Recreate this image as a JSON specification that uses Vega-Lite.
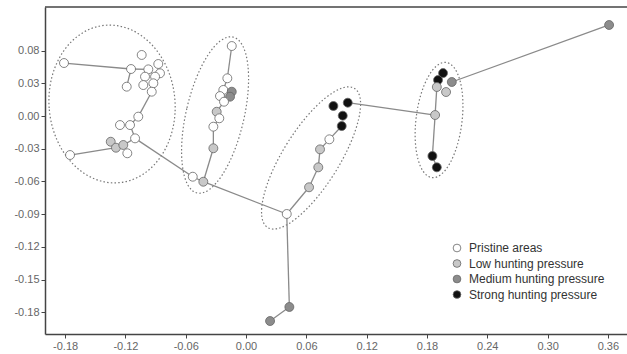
{
  "$schema": "https://vega.github.io/schema/vega-lite/v6.json",
  "width": 582,
  "height": 327,
  "autosize": {"type": "none"},
  "padding": {"left": 45, "top": 7, "right": 0, "bottom": 20},
  "background": "white",
  "config": {
    "view": {"stroke": null},
    "font": "Liberation Sans",
    "axis": {
      "grid": false,
      "domainColor": "#444",
      "domainWidth": 1.5,
      "tickColor": "#444",
      "tickSize": 4,
      "labelFont": "Liberation Sans",
      "labelFontSize": 11,
      "labelColor": "#666",
      "labelPadding": 2
    }
  },
  "datasets": {
    "points": [
      {"x": -0.1811, "y": 0.0486, "group": "Pristine areas"},
      {"x": -0.1144, "y": 0.0431, "group": "Pristine areas"},
      {"x": -0.1038, "y": 0.0560, "group": "Pristine areas"},
      {"x": -0.0873, "y": 0.0477, "group": "Pristine areas"},
      {"x": -0.0972, "y": 0.0428, "group": "Pristine areas"},
      {"x": -0.0856, "y": 0.0392, "group": "Pristine areas"},
      {"x": -0.1005, "y": 0.0361, "group": "Pristine areas"},
      {"x": -0.0905, "y": 0.0361, "group": "Pristine areas"},
      {"x": -0.1187, "y": 0.0269, "group": "Pristine areas"},
      {"x": -0.1022, "y": 0.0284, "group": "Pristine areas"},
      {"x": -0.0922, "y": 0.0300, "group": "Pristine areas"},
      {"x": -0.0938, "y": 0.0223, "group": "Pristine areas"},
      {"x": -0.1072, "y": -0.0006, "group": "Pristine areas"},
      {"x": -0.1254, "y": -0.0083, "group": "Pristine areas"},
      {"x": -0.1154, "y": -0.0083, "group": "Pristine areas"},
      {"x": -0.1104, "y": -0.0205, "group": "Pristine areas"},
      {"x": -0.1346, "y": -0.0236, "group": "Low hunting pressure"},
      {"x": -0.1294, "y": -0.0291, "group": "Low hunting pressure"},
      {"x": -0.1221, "y": -0.0266, "group": "Low hunting pressure"},
      {"x": -0.1181, "y": -0.0342, "group": "Pristine areas"},
      {"x": -0.1751, "y": -0.0358, "group": "Pristine areas"},
      {"x": -0.0142, "y": 0.0642, "group": "Pristine areas"},
      {"x": -0.0186, "y": 0.0346, "group": "Pristine areas"},
      {"x": -0.0226, "y": 0.0239, "group": "Pristine areas"},
      {"x": -0.0142, "y": 0.0223, "group": "Medium hunting pressure"},
      {"x": -0.0159, "y": 0.0177, "group": "Medium hunting pressure"},
      {"x": -0.0259, "y": 0.0183, "group": "Pristine areas"},
      {"x": -0.0219, "y": 0.0131, "group": "Pristine areas"},
      {"x": -0.0292, "y": 0.0039, "group": "Low hunting pressure"},
      {"x": -0.0266, "y": -0.0021, "group": "Pristine areas"},
      {"x": -0.0325, "y": -0.0098, "group": "Pristine areas"},
      {"x": -0.0325, "y": -0.0296, "group": "Low hunting pressure"},
      {"x": -0.0530, "y": -0.0557, "group": "Pristine areas"},
      {"x": -0.0425, "y": -0.0603, "group": "Low hunting pressure"},
      {"x": 0.0869, "y": 0.0092, "group": "Strong hunting pressure"},
      {"x": 0.1012, "y": 0.0122, "group": "Strong hunting pressure"},
      {"x": 0.0962, "y": 0.0003, "group": "Strong hunting pressure"},
      {"x": 0.0952, "y": -0.0092, "group": "Strong hunting pressure"},
      {"x": 0.0829, "y": -0.0214, "group": "Pristine areas"},
      {"x": 0.0736, "y": -0.0306, "group": "Low hunting pressure"},
      {"x": 0.0719, "y": -0.0471, "group": "Low hunting pressure"},
      {"x": 0.0627, "y": -0.0654, "group": "Low hunting pressure"},
      {"x": 0.0405, "y": -0.0899, "group": "Pristine areas"},
      {"x": 0.0431, "y": -0.1752, "group": "Medium hunting pressure"},
      {"x": 0.0239, "y": -0.1881, "group": "Medium hunting pressure"},
      {"x": 0.1960, "y": 0.0394, "group": "Strong hunting pressure"},
      {"x": 0.1910, "y": 0.0330, "group": "Strong hunting pressure"},
      {"x": 0.1898, "y": 0.0266, "group": "Low hunting pressure"},
      {"x": 0.2047, "y": 0.0312, "group": "Medium hunting pressure"},
      {"x": 0.1990, "y": 0.0220, "group": "Low hunting pressure"},
      {"x": 0.1881, "y": 0.0009, "group": "Low hunting pressure"},
      {"x": 0.1854, "y": -0.0367, "group": "Strong hunting pressure"},
      {"x": 0.1898, "y": -0.0471, "group": "Strong hunting pressure"},
      {"x": 0.3612, "y": 0.0835, "group": "Medium hunting pressure"}
    ],
    "edges": [
      {"x": -0.1811, "y": 0.0486, "x2": -0.1144, "y2": 0.0431},
      {"x": -0.1144, "y": 0.0431, "x2": -0.0972, "y2": 0.0428},
      {"x": -0.1144, "y": 0.0431, "x2": -0.1187, "y2": 0.0269},
      {"x": -0.0972, "y": 0.0428, "x2": -0.0905, "y2": 0.0361},
      {"x": -0.0905, "y": 0.0361, "x2": -0.0938, "y2": 0.0223},
      {"x": -0.0938, "y": 0.0223, "x2": -0.1072, "y2": -0.0006},
      {"x": -0.1072, "y": -0.0006, "x2": -0.1154, "y2": -0.0083},
      {"x": -0.1154, "y": -0.0083, "x2": -0.1104, "y2": -0.0205},
      {"x": -0.1104, "y": -0.0205, "x2": -0.1221, "y2": -0.0266},
      {"x": -0.1221, "y": -0.0266, "x2": -0.1294, "y2": -0.0291},
      {"x": -0.1294, "y": -0.0291, "x2": -0.1751, "y2": -0.0358},
      {"x": -0.1104, "y": -0.0205, "x2": -0.0530, "y2": -0.0557},
      {"x": -0.0142, "y": 0.0642, "x2": -0.0186, "y2": 0.0346},
      {"x": -0.0186, "y": 0.0346, "x2": -0.0226, "y2": 0.0239},
      {"x": -0.0226, "y": 0.0239, "x2": -0.0219, "y2": 0.0131},
      {"x": -0.0219, "y": 0.0131, "x2": -0.0292, "y2": 0.0039},
      {"x": -0.0292, "y": 0.0039, "x2": -0.0266, "y2": -0.0021},
      {"x": -0.0266, "y": -0.0021, "x2": -0.0325, "y2": -0.0098},
      {"x": -0.0325, "y": -0.0098, "x2": -0.0325, "y2": -0.0296},
      {"x": -0.0325, "y": -0.0296, "x2": -0.0425, "y2": -0.0603},
      {"x": -0.0530, "y": -0.0557, "x2": -0.0425, "y2": -0.0603},
      {"x": -0.0425, "y": -0.0603, "x2": 0.0405, "y2": -0.0899},
      {"x": 0.0405, "y": -0.0899, "x2": 0.0627, "y2": -0.0654},
      {"x": 0.0627, "y": -0.0654, "x2": 0.0719, "y2": -0.0471},
      {"x": 0.0719, "y": -0.0471, "x2": 0.0736, "y2": -0.0306},
      {"x": 0.0736, "y": -0.0306, "x2": 0.0829, "y2": -0.0214},
      {"x": 0.0829, "y": -0.0214, "x2": 0.0952, "y2": -0.0092},
      {"x": 0.0405, "y": -0.0899, "x2": 0.0431, "y2": -0.1752},
      {"x": 0.0431, "y": -0.1752, "x2": 0.0239, "y2": -0.1881},
      {"x": 0.1012, "y": 0.0122, "x2": 0.1881, "y2": 0.0009},
      {"x": 0.1881, "y": 0.0009, "x2": 0.1898, "y2": 0.0266},
      {"x": 0.1881, "y": 0.0009, "x2": 0.1854, "y2": -0.0367},
      {"x": 0.1854, "y": -0.0367, "x2": 0.1898, "y2": -0.0471},
      {"x": 0.2047, "y": 0.0312, "x2": 0.3612, "y2": 0.0835}
    ],
    "ellipses": [
      {"cluster": "A", "x": -0.1333, "y": 0.0110},
      {"cluster": "B", "x": -0.0308, "y": 0.0009},
      {"cluster": "C", "x": 0.0647, "y": -0.0385},
      {"cluster": "D", "x": 0.1920, "y": -0.0037}
    ]
  },
  "layer": [
    {
      "data": {"values": [{}]},
      "mark": {"type": "rule", "color": "#444", "strokeWidth": 1.5},
      "encoding": {"y": {"datum": 0.1, "title": null, "scale": {"domain": [-0.2, 0.1], "nice": false, "zero": false}}}
    },
    {
      "data": {"name": "ellipses"},
      "transform": [{"filter": "datum.cluster == 'A'"}],
      "mark": {"type": "point", "filled": false, "size": 4, "shape": "M -63 0 A 63 79 0 1 0 63 0 A 63 79 0 1 0 -63 0 Z", "angle": -5, "stroke": "#777", "strokeWidth": 1.2, "strokeDash": [1.5, 2.2], "opacity": 1},
      "encoding": {"x": {"field": "x", "type": "quantitative", "title": null}, "y": {"field": "y", "type": "quantitative", "title": null}}
    },
    {
      "data": {"name": "ellipses"},
      "transform": [{"filter": "datum.cluster == 'B'"}],
      "mark": {"type": "point", "filled": false, "size": 4, "shape": "M -29 0 A 29 80 0 1 0 29 0 A 29 80 0 1 0 -29 0 Z", "angle": 13, "stroke": "#777", "strokeWidth": 1.2, "strokeDash": [1.5, 2.2], "opacity": 1},
      "encoding": {"x": {"field": "x", "type": "quantitative", "title": null}, "y": {"field": "y", "type": "quantitative", "title": null}}
    },
    {
      "data": {"name": "ellipses"},
      "transform": [{"filter": "datum.cluster == 'C'"}],
      "mark": {"type": "point", "filled": false, "size": 4, "shape": "M -28 0 A 28 82 0 1 0 28 0 A 28 82 0 1 0 -28 0 Z", "angle": 32, "stroke": "#777", "strokeWidth": 1.2, "strokeDash": [1.5, 2.2], "opacity": 1},
      "encoding": {"x": {"field": "x", "type": "quantitative", "title": null}, "y": {"field": "y", "type": "quantitative", "title": null}}
    },
    {
      "data": {"name": "ellipses"},
      "transform": [{"filter": "datum.cluster == 'D'"}],
      "mark": {"type": "point", "filled": false, "size": 4, "shape": "M -23 0 A 23 58 0 1 0 23 0 A 23 58 0 1 0 -23 0 Z", "angle": 7, "stroke": "#777", "strokeWidth": 1.2, "strokeDash": [1.5, 2.2], "opacity": 1},
      "encoding": {"x": {"field": "x", "type": "quantitative", "title": null}, "y": {"field": "y", "type": "quantitative", "title": null}}
    },
    {
      "data": {"name": "edges"},
      "mark": {"type": "rule", "color": "#8a8a8a", "strokeWidth": 1.3},
      "encoding": {
        "x": {"field": "x", "type": "quantitative", "title": null},
        "y": {"field": "y", "type": "quantitative", "title": null},
        "x2": {"field": "x2"},
        "y2": {"field": "y2"}
      }
    },
    {
      "data": {"name": "points"},
      "mark": {"type": "point", "filled": true, "size": 80, "stroke": "#666", "strokeWidth": 0.8, "opacity": 1},
      "encoding": {
        "x": {
          "field": "x", "type": "quantitative", "title": null,
          "scale": {"domain": [-0.2, 0.379], "nice": false, "zero": false},
          "axis": {"values": [-0.18, -0.12, -0.06, 0, 0.06, 0.12, 0.18, 0.24, 0.3, 0.36], "labelExpr": "(datum.value < 0 ? '-' : '') + format(abs(datum.value), '.2f')"}
        },
        "y": {
          "field": "y", "type": "quantitative", "title": null,
          "scale": {"domain": [-0.2, 0.1], "nice": false, "zero": false},
          "axis": {"values": [-0.18, -0.15, -0.12, -0.09, -0.06, -0.03, 0, 0.03, 0.06], "labelExpr": "datum.value > 0.05 ? '0.08' : (datum.value < 0 ? '-' : '') + format(abs(datum.value), '.2f')"}
        },
        "fill": {
          "field": "group", "type": "nominal",
          "scale": {"domain": ["Pristine areas", "Low hunting pressure", "Medium hunting pressure", "Strong hunting pressure"], "range": ["#ffffff", "#c8c8c8", "#8c8c8c", "#111111"]},
          "legend": {"orient": "none", "legendX": 406, "legendY": 235, "title": null, "labelFontSize": 12, "labelColor": "#333", "labelFont": "Liberation Sans", "symbolSize": 60, "symbolType": "circle", "symbolStrokeColor": "#666", "symbolStrokeWidth": 0.8, "rowPadding": 3.5, "labelOffset": 6, "padding": 0}
        }
      }
    }
  ]
}
